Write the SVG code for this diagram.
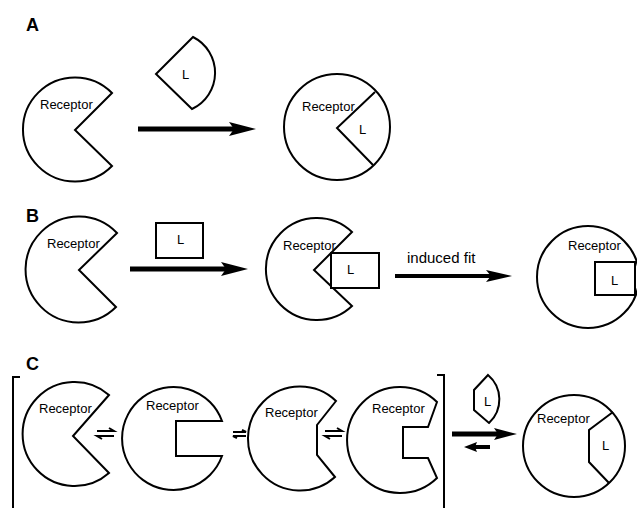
<svg xmlns="http://www.w3.org/2000/svg" width="637" height="508" viewBox="0 0 637 508">
<style>
.sh{fill:#fff;stroke:#000;stroke-width:2;stroke-linejoin:miter}
.ln{fill:none;stroke:#000;stroke-width:2}
.t{font-family:"Liberation Sans",Arial,sans-serif;font-size:13px;fill:#000}
.lab{font-family:"Liberation Sans",Arial,sans-serif;font-size:18px;font-weight:bold;fill:#000}
.ar{stroke:#000;fill:none}
.hd{fill:#000;stroke:none}
</style>
<rect width="637" height="508" fill="#fff"/>
<text class="lab" x="26" y="31">A</text>
<text class="lab" x="26" y="222">B</text>
<text class="lab" x="26" y="370">C</text>

<g id="receptorA">
<path class="sh" d="M112,93 L75,130 L112,166 A52 52 0 1 1 112,93 Z"/>
<text class="t" x="40" y="109">Receptor</text>
</g>
<g id="ligandA">
<path class="sh" d="M193,37 L156,74 L192,109 A40 40 0 0 0 193,37 Z"/>
<text class="t" x="182" y="79">L</text>
</g>
<g id="complexA">
<circle class="sh" cx="337" cy="127" r="53"/>
<path class="ln" d="M375,92 L337,128 L373,165"/>
<text class="t" x="302" y="111">Receptor</text>
<text class="t" x="359" y="134">L</text>
</g>

<g id="receptorB">
<path class="sh" d="M117,233 L79,270 L116,307 A53 53 0 1 1 117,233 Z"/>
<text class="t" x="47" y="248">Receptor</text>
</g>
<g id="ligandB">
<rect class="sh" x="156" y="223" width="47" height="35"/>
<text class="t" x="177" y="244">L</text>
</g>
<g id="complexB1">
<path class="sh" d="M352,232 L314,270 L352,306 A51 51 0 1 1 352,232 Z"/>
<rect class="sh" x="331" y="253" width="48" height="35"/>
<text class="t" x="283" y="250">Receptor</text>
<text class="t" x="347" y="274">L</text>
</g>
<g id="complexB2">
<circle class="sh" cx="588" cy="277" r="51"/>
<rect class="sh" x="595" y="262" width="40" height="33"/>
<text class="t" x="568" y="250">Receptor</text>
<text class="t" x="611" y="285">L</text>
</g>

<g id="bracket">
<path class="ln" d="M20,377 L13,377 L13,508"/>
<path class="ln" d="M437,375 L444,375 L444,508"/>
</g>
<g id="receptorC1">
<path class="sh" d="M109,395 L73,436 L109,473 A52 52 0 1 1 109,395 Z"/>
<text class="t" x="39" y="413">Receptor</text>
</g>
<g id="receptorC2">
<path class="sh" d="M222,421 L176,421 L176,456 L222,456 A51.5 51.5 0 1 1 222,421 Z"/>
<text class="t" x="146" y="410">Receptor</text>
</g>
<g id="receptorC3">
<path class="sh" d="M336,401 L317,425 L317,455 L335,477 A52 52 0 1 1 336,401 Z"/>
<text class="t" x="265" y="417">Receptor</text>
</g>
<g id="receptorC4">
<path class="sh" d="M437,402 L428,427 L403,427 L403,458 L428,458 L437,478 A53 53 0 1 1 437,402 Z"/>
<text class="t" x="372" y="413">Receptor</text>
</g>
<g id="ligandC">
<path class="sh" d="M488,375 L474,390 L474,410 L489,423 A32 32 0 0 0 488,375 Z"/>
<text class="t" x="484" y="406">L</text>
</g>
<g id="complexC">
<circle class="sh" cx="574" cy="446" r="51"/>
<path class="ln" d="M613,412 L589,430 L589,462 L609,483"/>
<text class="t" x="537" y="423">Receptor</text>
<text class="t" x="602" y="450">L</text>
</g>

<g id="connectors">
<line class="ar" x1="138" y1="129" x2="235" y2="129" stroke-width="5"/>
<polygon class="hd" points="256,129 229,122 234,129 229,136"/>
<line class="ar" x1="130" y1="269" x2="227" y2="269" stroke-width="5"/>
<polygon class="hd" points="248,269 221,262 226,269 221,276"/>
<line class="ar" x1="395" y1="276" x2="492" y2="276" stroke-width="4"/>
<polygon class="hd" points="512,276 486,270 491,276 486,282"/>
<text class="t" x="407" y="263" style="font-size:15px">induced fit</text>
<line class="ar" x1="452" y1="434" x2="500" y2="434" stroke-width="5"/>
<polygon class="hd" points="517,434 494,428 498,434 494,440"/>
<line class="ar" x1="474" y1="447" x2="490" y2="447" stroke-width="4"/>
<polygon class="hd" points="464,447 477,442 475,447 477,452"/>
<path class="ln" d="M97,431 L114,431 L109,428 M114,436 L97,436 L102,439"/>
<path class="ln" d="M233,432 L246,432 L242,430 M246,436 L233,436 L237,438"/>
<path class="ln" d="M325,431 L342,431 L337,428 M342,436 L325,436 L330,439"/>
</g>
</svg>
